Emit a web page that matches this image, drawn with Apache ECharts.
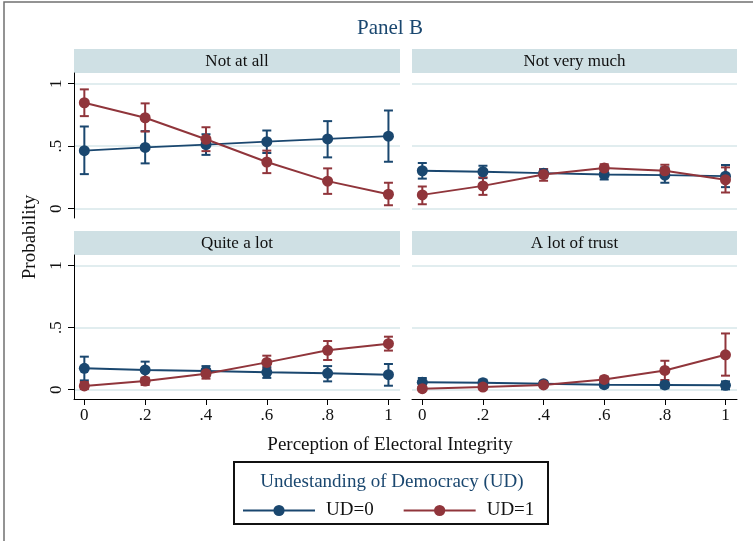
<!DOCTYPE html>
<html>
<head>
<meta charset="utf-8">
<script src="https://cdn.jsdelivr.net/npm/echarts@6/dist/echarts.min.js"></script>
<style>
  html, body { margin: 0; padding: 0; background: #fff; }
  #chart { width: 753px; height: 541px; }
</style>
</head>
<body>
<div id="chart"></div>
<script>
// Perception of electoral integrity (x) vs predicted probability of trust level, by UD group
const xVals = [0, 0.2, 0.4, 0.6, 0.8, 1];
const xTickLabels = ['0', '.2', '.4', '.6', '.8', '1'];
const yTickValues = [0, 0.5, 1];
const yTickLabels = ['0', '.5', '1'];
const panelTitles = ['Not at all', 'Not very much', 'Quite a lot', 'A lot of trust'];
const groupNames = ['UD=0', 'UD=1'];

// Not at all
const notAtAll_ud0 = [0.464, 0.490, 0.512, 0.536, 0.558, 0.580];
const notAtAll_ud0_lo = [0.276, 0.362, 0.430, 0.445, 0.410, 0.375];
const notAtAll_ud0_hi = [0.657, 0.620, 0.595, 0.625, 0.700, 0.785];
const notAtAll_ud1 = [0.847, 0.727, 0.555, 0.373, 0.220, 0.115];
const notAtAll_ud1_lo = [0.740, 0.617, 0.460, 0.284, 0.118, 0.027];
const notAtAll_ud1_hi = [0.954, 0.842, 0.651, 0.464, 0.322, 0.207];

// Not very much
const notVeryMuch_ud0 = [0.303, 0.295, 0.284, 0.273, 0.268, 0.260];
const notVeryMuch_ud0_lo = [0.240, 0.244, 0.250, 0.233, 0.207, 0.172];
const notVeryMuch_ud0_hi = [0.365, 0.343, 0.316, 0.310, 0.330, 0.349];
const notVeryMuch_ud1 = [0.110, 0.182, 0.273, 0.325, 0.303, 0.231];
const notVeryMuch_ud1_lo = [0.035, 0.110, 0.223, 0.290, 0.263, 0.129];
const notVeryMuch_ud1_hi = [0.177, 0.250, 0.316, 0.355, 0.351, 0.330];

// Quite a lot
const quiteALot_ud0 = [0.172, 0.159, 0.151, 0.140, 0.132, 0.121];
const quiteALot_ud0_lo = [0.075, 0.089, 0.108, 0.095, 0.067, 0.032];
const quiteALot_ud0_hi = [0.266, 0.226, 0.190, 0.182, 0.190, 0.207];
const quiteALot_ud1 = [0.030, 0.070, 0.129, 0.220, 0.317, 0.371];
const quiteALot_ud1_lo = [0.005, 0.038, 0.089, 0.169, 0.239, 0.315];
const quiteALot_ud1_hi = [0.062, 0.097, 0.167, 0.274, 0.392, 0.427];

// A lot of trust
const aLotOfTrust_ud0 = [0.059, 0.056, 0.048, 0.040, 0.038, 0.035];
const aLotOfTrust_ud0_lo = [0.021, 0.030, 0.027, 0.019, 0.011, 0.003];
const aLotOfTrust_ud0_hi = [0.094, 0.080, 0.070, 0.062, 0.064, 0.067];
const aLotOfTrust_ud1 = [0.008, 0.021, 0.038, 0.083, 0.155, 0.281];
const aLotOfTrust_ud1_lo = [0.000, 0.003, 0.021, 0.056, 0.078, 0.113];
const aLotOfTrust_ud1_hi = [0.024, 0.038, 0.056, 0.105, 0.233, 0.453];

const panels = [
  { ud0: [notAtAll_ud0, notAtAll_ud0_lo, notAtAll_ud0_hi], ud1: [notAtAll_ud1, notAtAll_ud1_lo, notAtAll_ud1_hi] },
  { ud0: [notVeryMuch_ud0, notVeryMuch_ud0_lo, notVeryMuch_ud0_hi], ud1: [notVeryMuch_ud1, notVeryMuch_ud1_lo, notVeryMuch_ud1_hi] },
  { ud0: [quiteALot_ud0, quiteALot_ud0_lo, quiteALot_ud0_hi], ud1: [quiteALot_ud1, quiteALot_ud1_lo, quiteALot_ud1_hi] },
  { ud0: [aLotOfTrust_ud0, aLotOfTrust_ud0_lo, aLotOfTrust_ud0_hi], ud1: [aLotOfTrust_ud1, aLotOfTrust_ud1_lo, aLotOfTrust_ud1_hi] }
];

const FONT = '"Liberation Serif", "DejaVu Serif", serif';
const NAVY = '#1a476f';
const MAROON = '#90353b';
const STRIP = '#cfe0e4';
const GRIDLINE = '#e1edef';

// panel layout: [left, top, width, height]
const boxes = [
  [74, 73, 326, 145],
  [412, 73, 325, 145],
  [74, 255, 326, 144],
  [412, 255, 325, 144]
];
const stripH = 24;

const grids = boxes.map(b => ({ left: b[0], top: b[1], width: b[2], height: b[3], containLabel: false }));

const xAxes = boxes.map((b, i) => {
  const bottomRow = i >= 2;
  return {
    type: 'value', gridIndex: i, min: -0.034, max: 1.038,
    axisLine: { show: bottomRow, onZero: false, lineStyle: { color: '#000', width: 1 } },
    axisTick: { show: bottomRow, length: 6, customValues: xVals, lineStyle: { color: '#000', width: 1 } },
    axisLabel: {
      show: bottomRow, customValues: xVals, margin: 8,
      formatter: v => xTickLabels[xVals.findIndex(t => Math.abs(t - v) < 1e-9)],
      fontFamily: FONT, fontSize: 17, color: '#111'
    },
    splitLine: { show: false }
  };
});

const yAxes = boxes.map((b, i) => {
  const leftCol = i % 2 === 0;
  return {
    type: 'value', gridIndex: i, min: -0.075, max: 1.085,
    axisLine: { show: leftCol, onZero: false, lineStyle: { color: '#000', width: 1 } },
    axisTick: { show: leftCol, length: 6, customValues: yTickValues, lineStyle: { color: '#000', width: 1 } },
    axisLabel: {
      show: leftCol, customValues: yTickValues, rotate: 90, margin: 9,
      formatter: v => yTickLabels[yTickValues.findIndex(t => Math.abs(t - v) < 1e-9)],
      fontFamily: FONT, fontSize: 17, color: '#111'
    },
    splitLine: { show: true, lineStyle: { color: GRIDLINE, width: 2 } }
  };
});

function ciData(lo, hi) {
  return xVals.map((x, k) => [x, lo[k], hi[k]]);
}
// 95% confidence interval caps
function ciSeries(i, lo, hi, color, name) {
  return {
    type: 'custom', name: name + ' CI', xAxisIndex: i, yAxisIndex: i, silent: true,
    data: ciData(lo, hi),
    encode: { x: 0, y: [1, 2] },
    itemStyle: { color: color },
    renderItem: (params, api) => {
      const x = api.value(0);
      const pLo = api.coord([x, api.value(1)]);
      const pHi = api.coord([x, api.value(2)]);
      const hw = 4.5;
      const st = { stroke: color, lineWidth: 2 };
      return {
        type: 'group',
        children: [
          { type: 'line', shape: { x1: pLo[0], y1: pLo[1], x2: pHi[0], y2: pHi[1] }, style: st },
          { type: 'line', shape: { x1: pLo[0] - hw, y1: pLo[1], x2: pLo[0] + hw, y2: pLo[1] }, style: st },
          { type: 'line', shape: { x1: pHi[0] - hw, y1: pHi[1], x2: pHi[0] + hw, y2: pHi[1] }, style: st }
        ]
      };
    }
  };
}
function lineSeries(i, est, color, name) {
  return {
    type: 'line', name: name, xAxisIndex: i, yAxisIndex: i,
    data: xVals.map((x, k) => [x, est[k]]),
    symbol: 'circle', symbolSize: 11, showSymbol: true,
    itemStyle: { color: color },
    lineStyle: { color: color, width: 2 },
    color: color
  };
}

const series = [];
panels.forEach((p, i) => {
  series.push(ciSeries(i, p.ud0[1], p.ud0[2], NAVY, groupNames[0]));
  series.push(ciSeries(i, p.ud1[1], p.ud1[2], MAROON, groupNames[1]));
  series.push(lineSeries(i, p.ud0[0], NAVY, groupNames[0]));
  series.push(lineSeries(i, p.ud1[0], MAROON, groupNames[1]));
});

const graphics = [];
// outer frame (top and left edges)
graphics.push({
  type: 'polyline', silent: true,
  shape: { points: [[4, 541], [4, 2], [753, 2]] },
  style: { stroke: '#707070', lineWidth: 1.5, fill: null }
});
// panel header strips
boxes.forEach((b, i) => {
  graphics.push({
    type: 'rect', silent: true,
    shape: { x: b[0], y: b[1] - stripH, width: b[2], height: stripH },
    style: { fill: STRIP }
  });
  graphics.push({
    type: 'text', silent: true,
    style: {
      text: panelTitles[i], x: b[0] + b[2] / 2, y: b[1] - stripH / 2 + 1,
      align: 'center', verticalAlign: 'middle',
      font: '17px ' + FONT, fill: '#111'
    }
  });
});
// chart title
graphics.push({
  type: 'text', silent: true,
  style: { text: 'Panel B', x: 390, y: 28, align: 'center', verticalAlign: 'middle', font: '21px ' + FONT, fill: NAVY }
});
// axis titles
graphics.push({
  type: 'text', silent: true,
  style: { text: 'Perception of Electoral Integrity', x: 390, y: 445, align: 'center', verticalAlign: 'middle', font: '19px ' + FONT, fill: '#111' }
});
graphics.push({
  type: 'text', silent: true, x: 30, y: 237, rotation: Math.PI / 2,
  style: { text: 'Probability', x: 0, y: 0, align: 'center', verticalAlign: 'middle', font: '19px ' + FONT, fill: '#111' }
});
// legend frame and title
graphics.push({
  type: 'rect', silent: true, z: -1,
  shape: { x: 234, y: 462, width: 314, height: 62 },
  style: { fill: '#fff', stroke: '#111', lineWidth: 2 }
});
graphics.push({
  type: 'text', silent: true,
  style: { text: 'Undestanding of Democracy (UD)', x: 392, y: 482, align: 'center', verticalAlign: 'middle', font: '19px ' + FONT, fill: NAVY }
});

const chart = echarts.init(document.getElementById('chart'), null, { renderer: 'canvas' });
chart.setOption({
  animation: false,
  backgroundColor: '#fff',
  grid: grids,
  xAxis: xAxes,
  yAxis: yAxes,
  legend: {
    data: groupNames,
    left: 242, top: 501, padding: 0,
    itemWidth: 72, itemHeight: 14, itemGap: 29,
    textStyle: { fontFamily: FONT, fontSize: 19, color: '#111', padding: [0, 0, 0, 6] },
    selectedMode: false
  },
  graphic: graphics,
  series: series
});
</script>
</body>
</html>
